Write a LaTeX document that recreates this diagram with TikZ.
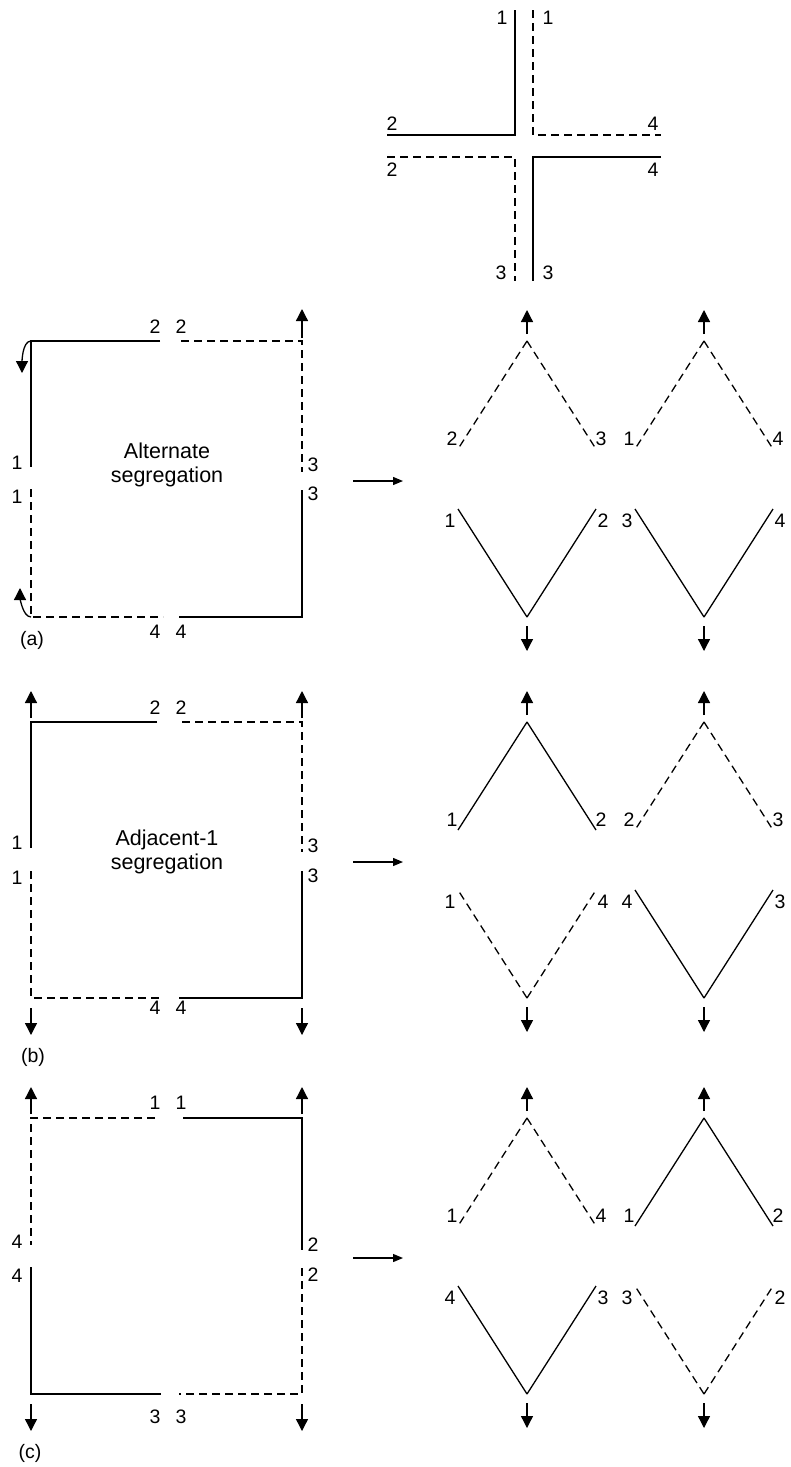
\documentclass[tikz,border=0pt]{standalone}
\usepackage{fontspec}
\setmainfont{Liberation Sans}
\usetikzlibrary{arrows.meta}
\tikzset{
  seg/.style   = {line width=1.3pt},
  dseg/.style  = {seg, dash pattern=on 8pt off 5pt},
  num/.style   = {font=\fontsize{19.5}{22}\selectfont, inner sep=0pt},
  title/.style = {font=\fontsize{21.5}{24}\selectfont, align=center, inner sep=0pt},
  varr/.style  = {-{Triangle[length=12pt, width=12pt]}, line width=1.3pt},
  goes/.style  = {-{Triangle[length=10pt, width=8pt]}, line width=1.3pt},
}
\begin{document}
\begin{tikzpicture}[x=1pt, y=-1pt]
  \useasboundingbox (0,0) rectangle (791,1467);

  % cross at the top
  \draw[seg]  (387,135) -- (515,135) -- (515,10);
  \draw[dseg] (533,10) -- (533,135) -- (661,135);
  \draw[dseg] (387,157) -- (515,157) -- (515,281);
  \draw[seg]  (661,157) -- (533,157) -- (533,281);
  \foreach \x/\y/\lb in {502/18/1, 548/18/1, 392/124/2, 392/170/2,
                         653/124/4, 653/170/4, 501/273/3, 548/273/3}
    \node[num] (x\x-\y) at (\x,\y) {\lb};

  % (a) alternate
  \draw[seg]  (160,341) -- (31,341) -- (31,467);
  \draw[dseg] (181,341) -- (302,341) -- (302,472);
  \draw[dseg] (31,489) -- (31,617) -- (163,617);
  \draw[seg]  (302,490) -- (302,617) -- (179,617);
  \draw[varr] (302,338) -- (302,309);
  \draw[varr] (31,341) to[out=180, in=90, looseness=0.7] (22,373);
  \draw[varr] (31,617) to[out=180, in=-90, looseness=0.7] (20,588);
  \node[title] (alt) at (167,465) {Alternate\\segregation};
  \foreach \x/\y/\lb in {155/327/2, 181/327/2, 17/463/1, 17/497/1,
                         313/465/3, 313/494/3, 155/632/4, 181/632/4}
    \node[num] (a\x-\y) at (\x,\y) {\lb};
  \node[num] (pa) at (32,640) {(a)};
  \coordinate (ga1) at (353,481);
  \coordinate (ga2) at (403,481);
  \draw[goes] (ga1) -- (ga2);

  % (b) adjacent-1
  \draw[seg]  (157,722) -- (31,722) -- (31,848);
  \draw[dseg] (182,722) -- (302,722) -- (302,852);
  \draw[dseg] (31,871) -- (31,998) -- (163,998);
  \draw[seg]  (302,871) -- (302,998) -- (179,998);
  \node[title] (adj) at (167,852) {Adjacent-1\\segregation};
  \foreach \x/\y/\lb in {155/708/2, 181/708/2, 17/843/1, 17/878/1,
                         313/846/3, 313/876/3, 155/1008/4, 181/1008/4}
    \node[num] (b\x-\y) at (\x,\y) {\lb};
  \node[num] (pb) at (33,1057) {(b)};
  \coordinate (gb1) at (353,862);
  \coordinate (gb2) at (403,862);
  \draw[goes] (gb1) -- (gb2);

  % (c)
  \draw[dseg] (155,1118) -- (31,1118) -- (31,1245);
  \draw[seg]  (183,1118) -- (302,1118) -- (302,1250);
  \draw[seg]  (31,1267) -- (31,1394) -- (161,1394);
  \draw[dseg] (302,1268) -- (302,1394) -- (179,1394);
  \foreach \x/\y/\lb in {155/1103/1, 181/1103/1, 17/1242/4, 17/1276/4,
                         313/1245/2, 313/1275/2, 155/1417/3, 181/1417/3}
    \node[num] (c\x-\y) at (\x,\y) {\lb};
  \node[num] (pc) at (30,1453) {(c)};
  \coordinate (gc1) at (353,1258);
  \coordinate (gc2) at (403,1258);
  \draw[goes] (gc1) -- (gc2);

  % straight arrows on the squares of (b) and (c)
  \foreach \T/\B in {722/998, 1118/1394}
    \foreach \x in {31, 302} {
      \draw[varr] (\x,\T-4) -- (\x,\T-31);
      \draw[varr] (\x,\B+10) -- (\x,\B+37);
    }

  % peaks
  \foreach \cx/\T/\st/\ll/\lr in {527/341/dseg/2/3, 704/341/dseg/1/4,
                                  527/722/seg/1/2,  704/722/dseg/2/3,
                                  527/1118/dseg/1/4, 704/1118/seg/1/2} {
    \coordinate (apex) at (\cx,\T);
    \draw[\st] (apex) -- ++(-69,108);
    \draw[\st] (apex) -- ++(69,108);
    \draw[varr] (\cx,\T-7) -- (\cx,\T-31);
    \node[num] (l\cx-\T) at (\cx-75,\T+98) {\ll};
    \node[num] (r\cx-\T) at (\cx+74,\T+98) {\lr};
  }

  % troughs
  \foreach \cx/\B/\st/\ll/\lr in {527/617/seg/1/2,   704/617/seg/3/4,
                                  527/998/dseg/1/4,  704/998/seg/4/3,
                                  527/1394/seg/4/3,  704/1394/dseg/3/2} {
    \coordinate (foot) at (\cx,\B);
    \draw[\st] (foot) -- ++(-69,-108);
    \draw[\st] (foot) -- ++(69,-108);
    \draw[varr] (\cx,\B+9) -- (\cx,\B+34);
    \node[num] (l\cx-\B) at (\cx-77,\B-96) {\ll};
    \node[num] (r\cx-\B) at (\cx+76,\B-96) {\lr};
  }
\end{tikzpicture}
\end{document}
